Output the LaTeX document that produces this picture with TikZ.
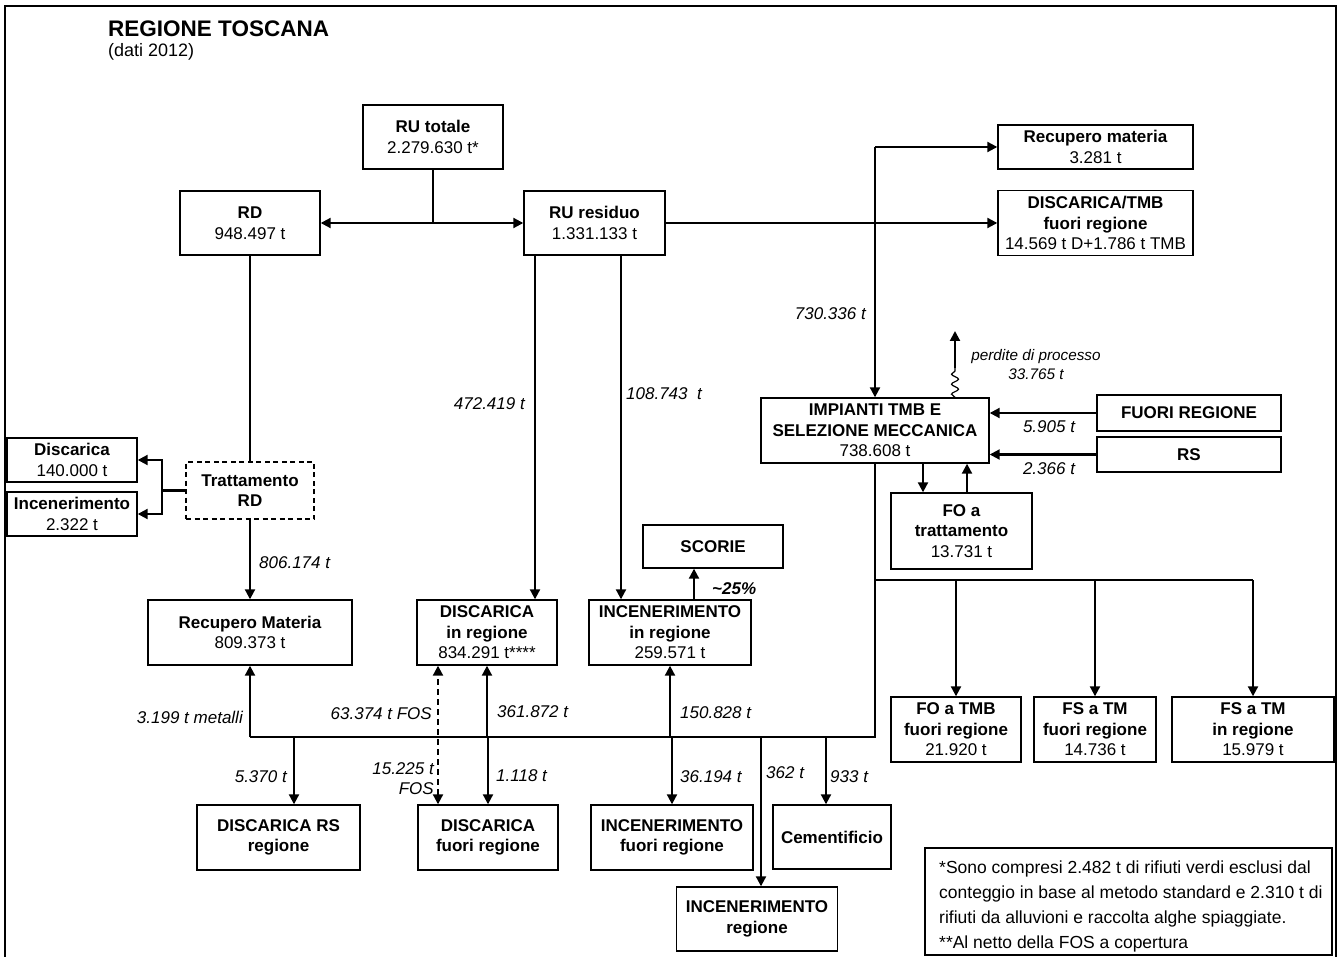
\documentclass[tikz,border=0pt]{standalone}
\usepackage{fontspec}
\setmainfont{Liberation Sans}
\usetikzlibrary{arrows.meta,decorations.pathmorphing}
\begin{document}
\begin{tikzpicture}[x=1pt,y=-1pt,font=\fontsize{17}{20.5}\selectfont,
  box/.style={draw,fill=white,line width=1.4pt,inner sep=0pt,align=center},
  link/.style={line width=2.1pt},
  flow/.style={line width=2.1pt,-{Triangle[length=10pt,width=10pt]}},
  both/.style={line width=2.1pt,{Triangle[length=10pt,width=10pt]}-{Triangle[length=10pt,width=10pt]}},
  qty/.style={inner sep=0pt,font=\fontsize{17}{20.5}\selectfont\itshape}]
\useasboundingbox (0,0) rectangle (1341,957);
\draw[line width=2.4pt] (5,962) -- (5,6) -- (1336,6) -- (1336,962);
\node[anchor=base west,inner sep=0pt,font=\fontsize{22.5}{27}\selectfont\bfseries] (title) at (108,37) {REGIONE TOSCANA};
\node[anchor=base west,inner sep=0pt,font=\fontsize{18}{22}\selectfont] (year) at (108,57) {(dati 2012)};
\node[box,minimum width=140pt,minimum height=64pt] (RUtot) at (433,137) {\textbf{RU totale}\\2.279.630 t*};
\node[box,minimum width=140pt,minimum height=64pt] (RD) at (250,223) {\textbf{RD}\\948.497 t};
\node[box,minimum width=141pt,minimum height=64pt] (RUres) at (594.5,223) {\textbf{RU residuo}\\1.331.133 t};
\node[box,minimum width=195pt,minimum height=44pt] (RecM) at (1095.5,147) {\textbf{Recupero materia}\\3.281 t};
\node[box,minimum width=195pt,minimum height=65pt] (DTMB) at (1095.5,223) {\textbf{DISCARICA/TMB}\\\textbf{fuori regione}\\14.569 t D+1.786 t TMB};
\node[box,minimum width=228pt,minimum height=65pt] (TMB) at (875,430.5) {\textbf{IMPIANTI TMB E}\\\textbf{SELEZIONE MECCANICA}\\738.608 t};
\node[box,minimum width=184pt,minimum height=36pt] (FR) at (1189,413) {\textbf{FUORI REGIONE}};
\node[box,minimum width=184pt,minimum height=35pt] (RS) at (1189,454.5) {\textbf{RS}};
\node[box,minimum width=141pt,minimum height=76pt] (FOtr) at (961.5,531) {\textbf{FO a}\\\textbf{trattamento}\\13.731 t};
\node[box,minimum width=130pt,minimum height=65pt] (FOtmb) at (956,729.5) {\textbf{FO a TMB}\\\textbf{fuori regione}\\21.920 t};
\node[box,minimum width=122pt,minimum height=65pt] (FSf) at (1095,729.5) {\textbf{FS a TM}\\\textbf{fuori regione}\\14.736 t};
\node[box,minimum width=162pt,minimum height=65pt] (FSi) at (1253,729.5) {\textbf{FS a TM}\\\textbf{in regione}\\15.979 t};
\node[box,dash pattern=on 5pt off 3.5pt,minimum width=128pt,minimum height=57pt] (Tratt) at (250,490.5) {\textbf{Trattamento}\\\textbf{RD}};
\node[box,minimum width=130pt,minimum height=44pt] (Disc) at (72,460) {\textbf{Discarica}\\140.000 t};
\node[box,minimum width=130pt,minimum height=44pt] (Inc) at (72,514) {\textbf{Incenerimento}\\2.322 t};
\node[box,minimum width=204pt,minimum height=65pt] (RecMat) at (250,632.5) {\textbf{Recupero Materia}\\809.373 t};
\node[box,minimum width=140pt,minimum height=65pt] (DinR) at (487,632.5) {\textbf{DISCARICA}\\\textbf{in regione}\\834.291 t****};
\node[box,minimum width=162pt,minimum height=65pt] (IinR) at (670,632.5) {\textbf{INCENERIMENTO}\\\textbf{in regione}\\259.571 t};
\node[box,minimum width=140pt,minimum height=43pt] (Scorie) at (713,546.5) {\textbf{SCORIE}};
\node[box,minimum width=163pt,minimum height=65pt] (DRS) at (278.5,837.5) {\textbf{DISCARICA RS}\\\textbf{regione}};
\node[box,minimum width=140pt,minimum height=65pt] (DfR) at (488,837.5) {\textbf{DISCARICA}\\\textbf{fuori regione}};
\node[box,minimum width=162pt,minimum height=65pt] (IfR) at (672,837.5) {\textbf{INCENERIMENTO}\\\textbf{fuori regione}};
\node[box,minimum width=118pt,minimum height=64pt] (Cem) at (832,837) {\textbf{Cementificio}};
\node[box,minimum width=161pt,minimum height=64pt] (Ireg) at (757,919) {\textbf{INCENERIMENTO}\\\textbf{regione}};
\node[box,minimum width=407pt,minimum height=107pt] (note) at (1128.5,901.5) {};
\node[anchor=north west,align=left,inner sep=0pt,font=\fontsize{17.5}{25}\selectfont] (notetext) at (939,861) {*Sono compresi 2.482 t di rifiuti verdi esclusi dal\\conteggio in base al metodo standard e 2.310 t di\\rifiuti da alluvioni e raccolta alghe spiaggiate.\\**Al netto della FOS a copertura};
\coordinate (tmbtop) at (875,147);
\coordinate (lossbase) at (955,368);
\coordinate (loss) at (955,331);
\coordinate (split) at (875,580);
\coordinate (splitR) at (1253,580);
\coordinate (busR) at (875,737);
\coordinate (busL) at (250,737);
\coordinate (tj) at (162,490.5);
\draw[link] (RUtot.south) -- (RUtot.south |- RD.east);
\draw[both] (RD.east) -- (RUres.west);
\draw[flow] (RUres.east) -- (DTMB.west);
\draw[flow] (tmbtop) -- (RecM.west);
\draw[flow] (tmbtop) -- (TMB.north);
\draw[flow] ([xshift=-59.5pt]RUres.south) -- ([xshift=-59.5pt]RUres.south |- DinR.north);
\draw[flow] ([xshift=26.5pt]RUres.south) -- ([xshift=26.5pt]RUres.south |- IinR.north);
\draw[flow] ([xshift=24pt]IinR.north) -- ([xshift=24pt]IinR.north |- Scorie.south);
\draw[flow] (FR.west) -- (FR.west -| TMB.east);
\draw[flow] (RS.west) -- (RS.west -| TMB.east);
\draw[line width=1.2pt,decorate,decoration={snake,amplitude=3.5pt,segment length=10pt}] ([xshift=80pt]TMB.north) -- (lossbase);
\draw[flow] (lossbase) -- (loss);
\draw[flow] ([xshift=-38.5pt]FOtr.north |- TMB.south) -- ([xshift=-38.5pt]FOtr.north);
\draw[flow] ([xshift=5.5pt]FOtr.north) -- ([xshift=5.5pt]FOtr.north |- TMB.south);
\draw[link] (TMB.south) -- (busR) -- (busL);
\draw[link] (split) -- (splitR);
\draw[flow] (split -| FOtmb.north) -- (FOtmb.north);
\draw[flow] (split -| FSf.north) -- (FSf.north);
\draw[flow] (splitR) -- (FSi.north);
\draw[link] (RD.south) -- (Tratt.north);
\draw[link] (Tratt.west) -- (tj);
\draw[flow] (tj) |- (Disc.east);
\draw[flow] (tj) |- (Inc.east);
\draw[flow] (Tratt.south) -- (RecMat.north);
\draw[flow] (busL) -- (RecMat.south);
\draw[flow] (busL -| DinR.south) -- (DinR.south);
\draw[flow] (busL -| IinR.south) -- (IinR.south);
\draw[both,dash pattern=on 6pt off 4pt] ([xshift=-50pt]DfR.north) -- ([xshift=-50pt]DfR.north |- DinR.south);
\draw[flow] ([xshift=15.5pt]busL -| DRS.north) -- ([xshift=15.5pt]DRS.north);
\draw[flow] (busL -| DfR.north) -- (DfR.north);
\draw[flow] (busL -| IfR.north) -- (IfR.north);
\draw[flow] ([xshift=4pt]busL -| Ireg.north) -- ([xshift=4pt]Ireg.north);
\draw[flow] ([xshift=-6pt]busL -| Cem.north) -- ([xshift=-6pt]Cem.north);
\node[qty,anchor=east] (q730) at (866,314) {730.336 t};
\node[qty,anchor=east] (q472) at (525,404) {472.419 t};
\node[qty,anchor=west] (q108) at (626,394) {108.743\ \ t};
\node[qty,anchor=west] (q806) at (259,563) {806.174 t};
\node[qty] (q5905) at (1049,427) {5.905 t};
\node[qty] (q2366) at (1049,469) {2.366 t};
\node[qty,align=center,font=\fontsize{15.3}{19}\selectfont\itshape] (qloss) at (1036,364.5) {perdite di processo\\33.765 t};
\node[qty,anchor=west,font=\fontsize{17}{20.5}\selectfont\bfseries\itshape] (q25) at (712,589) {\textasciitilde25\%};
\node[qty,anchor=east] (qmet) at (243,717) {3.199 t metalli};
\node[qty,anchor=east] (q63) at (432,714) {63.374 t FOS};
\node[qty,anchor=west] (q361) at (497,712) {361.872 t};
\node[qty,anchor=west] (q150) at (680,713) {150.828 t};
\node[qty,anchor=east] (q5370) at (287,777) {5.370 t};
\node[qty,anchor=east,align=right] (q15) at (434,778.5) {15.225 t\\FOS};
\node[qty,anchor=west] (q1118) at (496,776) {1.118 t};
\node[qty,anchor=west] (q36) at (680,777) {36.194 t};
\node[qty,anchor=west] (q362) at (766,773) {362 t};
\node[qty,anchor=west] (q933) at (830,777) {933 t};
\end{tikzpicture}
\end{document}
